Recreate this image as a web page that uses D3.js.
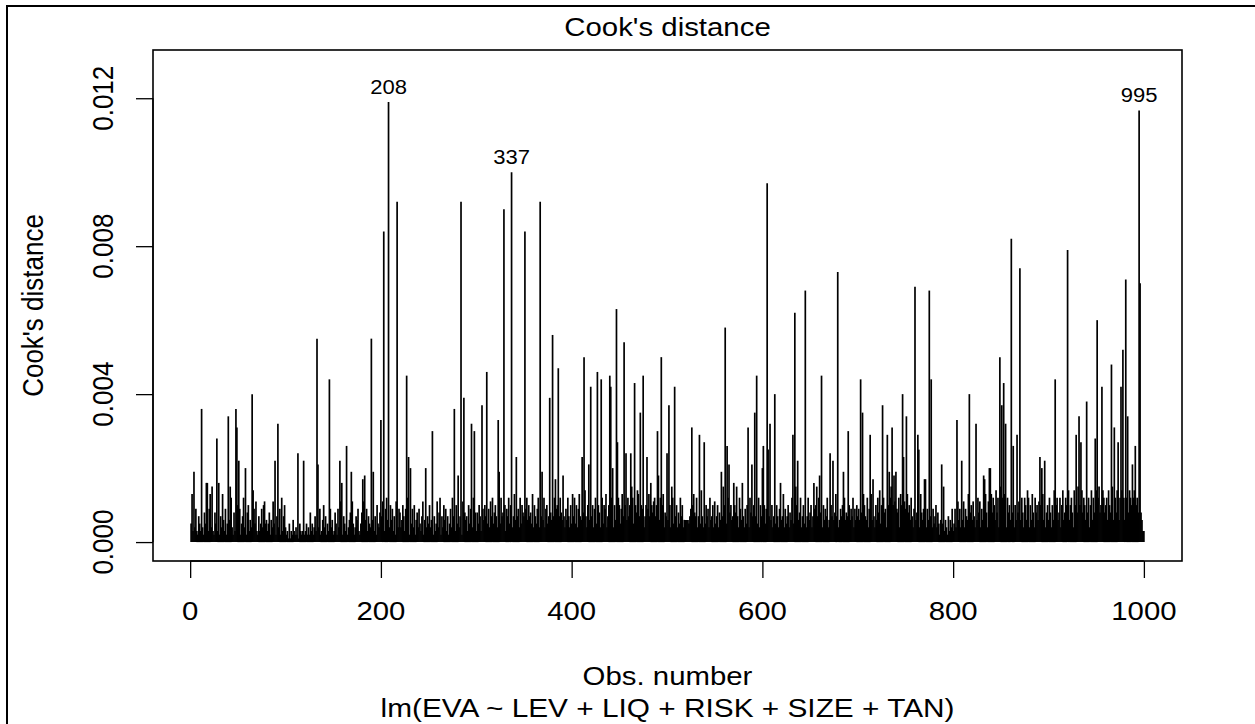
<!DOCTYPE html>
<html>
<head>
<meta charset="utf-8">
<script src="https://cdn.jsdelivr.net/npm/d3@7/dist/d3.min.js"></script>
<style>
  html, body { margin: 0; padding: 0; background: #fff; }
  svg { display: block; }
  text { font-family: "Liberation Sans", Arial, sans-serif; fill: #000; }
</style>
</head>
<body>
<div id="chart"></div>
<script>
// x axis ticks and y axis ticks
const obsTicks = [0, 200, 400, 600, 800, 1000]
const cookTicks = [0, 0.004, 0.008, 0.012]
const labelledObs = [208, 337, 995]

// visible spikes: [obs, Cook's distance in units of 1e-4]
const peaks = [
  [1, 5], [2, 13], [4, 19], [12, 36], [17, 16], [18, 16], [21, 13], [23, 15], [28, 28], [30, 16],
  [40, 34], [42, 15], [48, 36], [49, 31], [51, 22], [58, 20], [65, 40], [66, 14], [78, 11], [89, 22],
  [92, 32], [96, 12], [113, 24], [119, 22], [133, 55], [134, 21], [146, 44], [157, 22], [159, 16], [164, 26],
  [169, 19], [181, 17], [183, 18], [190, 55], [192, 19], [200, 33], [203, 84], [208, 119], [217, 92], [227, 45],
  [229, 23], [231, 20], [247, 20], [254, 30], [262, 12], [277, 36], [281, 18], [284, 92], [287, 39], [295, 32],
  [298, 30], [306, 37], [311, 46], [323, 33], [324, 19], [329, 90], [337, 100], [342, 23], [351, 84], [367, 92],
  [369, 19], [377, 39], [380, 56], [383, 17], [386, 47], [391, 18], [401, 13], [411, 23], [413, 50], [414, 14],
  [418, 21], [420, 42], [427, 46], [431, 44], [432, 12], [440, 45], [441, 42], [443, 20], [447, 63], [448, 27],
  [455, 54], [457, 24], [462, 24], [463, 15], [466, 43], [469, 14], [472, 35], [475, 45], [479, 23], [483, 16],
  [486, 11], [490, 30], [491, 18], [494, 50], [500, 24], [502, 37], [505, 15], [508, 42], [526, 31], [528, 13],
  [534, 29], [536, 14], [539, 27], [550, 11], [557, 19], [559, 15], [561, 58], [563, 26], [565, 21], [570, 16],
  [573, 15], [579, 16], [585, 31], [589, 21], [592, 35], [594, 45], [600, 20], [601, 26], [605, 97], [606, 25],
  [608, 32], [613, 40], [619, 16], [622, 13], [632, 29], [634, 62], [635, 15], [637, 22], [645, 68], [654, 16],
  [657, 15], [660, 18], [662, 45], [671, 24], [674, 22], [677, 13], [679, 73], [685, 19], [690, 30], [703, 44],
  [705, 35], [713, 29], [716, 17], [726, 37], [731, 29], [733, 19], [736, 31], [738, 18], [740, 19], [747, 40],
  [748, 23], [751, 34], [760, 69], [763, 29], [764, 25], [770, 17], [771, 17], [775, 68], [777, 44], [788, 21],
  [790, 15], [804, 33], [809, 22], [817, 40], [824, 32], [832, 18], [833, 17], [838, 20], [839, 20], [849, 50],
  [851, 37], [853, 43], [855, 32], [861, 82], [863, 26], [867, 29], [870, 74], [875, 12], [878, 14], [891, 23],
  [893, 20], [896, 22], [907, 44], [920, 79], [929, 29], [932, 34], [934, 27], [940, 38], [949, 28], [951, 60],
  [956, 42], [966, 48], [969, 31], [973, 27], [976, 42], [978, 52], [981, 71], [983, 34], [988, 21], [991, 26],
  [995, 116.7], [996, 70]
]

// the dense low part, obs 1..1000 in blocks of 100 (units of 1e-4)
const base0 = [
  2,8,3,6,4,9,3,2,7,5, 3,10,4,2,8,5,11,6,3,9, 12,4,7,3,2,8,5,10,3,6, 2,7,4,13,6,3,9,2,5,11,
  6,3,12,4,2,8,3,6,5,10, 3,9,2,5,7,12,4,3,2,8, 10,3,6,4,2,3,9,5,11,3, 2,7,3,5,9,4,10,2,5,6,
  3,5,8,2,6,4,11,5,3,2, 7,3,4,9,2,6,3,7,10,4
]
const base1 = [
  2,3,1,5,1,3,2,6,3,2, 4,2,3,1,5,3,2,3,6,2, 3,5,2,4,2,8,3,5,2,4, 7,3,2,5,4,9,2,3,6,10,
  4,7,2,5,3,2,9,4,6,2, 3,8,5,2,9,4,6,11,3,2, 7,5,3,9,2,4,6,8,3,11, 5,2,4,7,6,9,3,2,5,8,
  4,11,2,6,9,3,7,5,4,12, 6,9,3,7,2,10,5,4,8,6
]
const base2 = [
  7,11,5,3,9,12,6,8,4,10, 6,9,3,7,2,11,5,4,9,8, 4,6,10,7,3,9,5,12,4,2, 7,5,9,4,10,2,6,8,4,9,
  5,3,7,11,2,6,9,4,7,5, 10,4,6,9,2,7,3,5,11,4, 8,5,2,7,4,10,6,9,3,7, 2,5,9,4,12,7,6,3,10,5,
  9,4,7,5,2,11,4,8,6,7, 3,10,5,9,7,4,12,6,8,3
]
const base3 = [
  8,5,10,7,3,12,9,6,10,7, 13,5,9,4,11,7,12,5,8,10, 7,4,10,9,5,12,7,8,6,10, 3,9,7,12,5,10,8,4,7,13,
  6,10,7,9,4,12,5,10,8,7, 4,9,12,6,10,7,8,5,13,4, 10,7,5,9,12,4,10,7,8,6, 12,4,9,10,5,7,14,8,6,10,
  7,12,5,9,10,4,7,12,8,6, 10,7,4,9,6,12,7,4,10,5
]
const base4 = [
  8,7,12,5,10,4,9,13,7,6, 10,8,5,12,7,4,10,9,6,13, 7,10,4,9,12,5,7,10,8,4, 12,7,5,10,9,13,4,7,10,6,
  9,12,7,4,10,6,8,7,12,10, 5,9,13,7,4,10,8,6,12,7, 10,4,9,12,5,7,10,8,4,13, 7,5,10,9,12,4,7,10,6,9,
  13,7,4,10,8,6,12,7,10,4, 9,6,12,7,10,13,4,8,7,10
]
const base5 = [
  6,9,10,4,7,12,5,9,7,10, 4,8,5,12,7,10,4,6,6,6, 6,6,5,7,9,4,10,6,8,7, 12,4,7,9,5,10,7,4,8,5,
  10,7,9,4,12,6,7,10,4,9, 5,7,10,4,8,6,12,7,4,10, 9,5,7,12,4,8,10,6,7,4, 10,8,5,7,4,12,9,6,10,7,
  4,9,5,10,7,4,12,8,6,7, 10,4,7,9,5,12,4,10,7,8
]
const base6 = [
  7,10,5,9,4,12,7,8,6,10, 4,7,9,5,10,7,4,9,12,6, 7,10,4,9,5,7,10,4,8,6, 12,7,5,9,4,10,7,6,8,12,
  4,7,10,5,9,4,7,12,6,8, 10,4,7,6,9,10,4,7,12,5, 8,7,4,10,6,9,7,12,4,6, 9,10,7,4,6,8,12,7,10,4,
  6,9,7,10,4,12,6,8,7,4, 10,6,9,7,12,4,9,6,10,7
]
const base7 = [
  9,6,11,8,4,13,10,7,6,12, 4,9,8,13,6,11,7,4,10,6, 12,8,14,5,10,7,12,8,9,4, 13,10,6,12,15,8,10,13,11,6,
  9,8,12,4,13,10,6,8,11,9, 4,13,8,10,6,12,7,4,9,13, 6,8,12,10,4,13,8,6,9,11, 8,4,9,6,11,7,12,4,9,5,
  7,10,4,8,5,2,6,3,5,8, 3,6,4,2,7,3,6,4,9,3
]
const base8 = [
  5,9,4,7,11,6,9,4,8,6, 11,4,9,7,6,13,4,8,10,6, 11,7,4,9,6,12,8,11,4,9, 6,11,9,13,8,4,11,10,6,13,
  8,12,10,6,14,8,12,4,10,15, 8,12,6,13,10,4,12,8,10,6, 13,8,12,4,10,6,13,8,11,10, 6,12,8,4,13,10,6,8,12,4,
  10,6,13,8,4,12,8,10,6,11, 4,10,8,13,6,12,4,8,10,6
]
const base9 = [
  12,8,4,10,6,14,8,10,12,6, 8,12,4,10,14,6,8,12,10,4, 14,6,10,12,8,4,14,10,12,8, 15,12,10,6,14,8,12,10,6,14,
  8,12,4,10,14,6,12,8,10,14, 6,12,15,8,10,4,14,12,8,10, 12,6,14,10,8,12,15,6,10,12, 8,14,10,6,12,8,14,10,12,6,
  10,12,15,8,14,12,10,8,12,14, 6,10,12,8,4,2,8,6,3,3
]

const W = 1255, H = 724
const plot = { left: 153, right: 1182, top: 50, bottom: 561 }
const sx = 1.13   // reference is stretched horizontally
const fs = 26

const baseAll = [].concat(base0, base1, base2, base3, base4, base5, base6, base7, base8, base9)
const peakMap = new Map(peaks)
const data = d3.range(1, 1001).map(i => ({
  obs: i,
  cook: (peakMap.has(i) ? peakMap.get(i) : (baseAll[i - 1] ?? 0)) * 1e-4
}))

const n = data.length
const maxCook = d3.max(data, d => d.cook)
const yTop = maxCook * 1.075
const x = d3.scaleLinear()
  .domain([1 - 0.04 * (n - 1), n + 0.04 * (n - 1)])
  .range([plot.left, plot.right])
const y = d3.scaleLinear()
  .domain([-0.04 * yTop, 1.04 * yTop])
  .range([plot.bottom, plot.top])

const svg = d3.select('#chart').append('svg')
  .attr('width', W).attr('height', H)

// outer frame (only left and top visible)
svg.append('rect')
  .attr('x', 7).attr('y', 6).attr('width', W + 20).attr('height', H + 20)
  .attr('fill', 'none').attr('stroke', '#000').attr('stroke-width', 2)

// spikes
svg.append('g').selectAll('line').data(data).join('line')
  .attr('x1', d => x(d.obs)).attr('x2', d => x(d.obs))
  .attr('y1', y(0)).attr('y2', d => y(d.cook))
  .attr('stroke', '#000').attr('stroke-width', 1.7)

// plot box
svg.append('rect')
  .attr('x', plot.left).attr('y', plot.top)
  .attr('width', plot.right - plot.left).attr('height', plot.bottom - plot.top)
  .attr('fill', 'none').attr('stroke', '#000').attr('stroke-width', 1.6)

function stretchedText(g, tx, ty, str, size, rot) {
  return g.append('text')
    .attr('transform', `translate(${tx},${ty}) scale(${sx},1)` + (rot ? ` rotate(${rot})` : ''))
    .attr('text-anchor', 'middle')
    .style('font-size', size + 'px')
    .text(str)
}

// x axis
const xAxis = svg.append('g')
  .attr('transform', `translate(0,${plot.bottom})`)
  .call(d3.axisBottom(x).tickValues(obsTicks).tickSize(17).tickFormat(''))
xAxis.select('.domain').attr('d', `M${x(obsTicks[0])},0H${x(obsTicks[obsTicks.length - 1])}`).attr('stroke-width', 1.3)
xAxis.selectAll('.tick line').attr('stroke-width', 1.3)
obsTicks.forEach(t => stretchedText(svg, x(t), 620, d3.format('d')(t), fs))

// y axis
const yAxis = svg.append('g')
  .attr('transform', `translate(${plot.left},0)`)
  .call(d3.axisLeft(y).tickValues(cookTicks).tickSize(17).tickFormat(''))
yAxis.select('.domain').attr('d', `M0,${y(cookTicks[0])}V${y(cookTicks[cookTicks.length - 1])}`).attr('stroke-width', 1.3)
yAxis.selectAll('.tick line').attr('stroke-width', 1.3)
cookTicks.forEach(t => stretchedText(svg, 113, y(t), d3.format('.3f')(t), fs, -90))

// ids of the largest values
labelledObs.forEach(o => {
  const d = data[o - 1]
  stretchedText(svg, x(o), y(d.cook) - 8, String(o), fs * 0.75)
})

// titles
stretchedText(svg, (plot.left + plot.right) / 2, 36, "Cook's distance", fs)
stretchedText(svg, 43, (plot.top + plot.bottom) / 2, "Cook's distance", fs, -90)
stretchedText(svg, (plot.left + plot.right) / 2, 685, 'Obs. number', fs)
stretchedText(svg, (plot.left + plot.right) / 2, 717, 'lm(EVA ~ LEV + LIQ + RISK + SIZE + TAN)', fs * 1.015)
</script>
</body>
</html>
